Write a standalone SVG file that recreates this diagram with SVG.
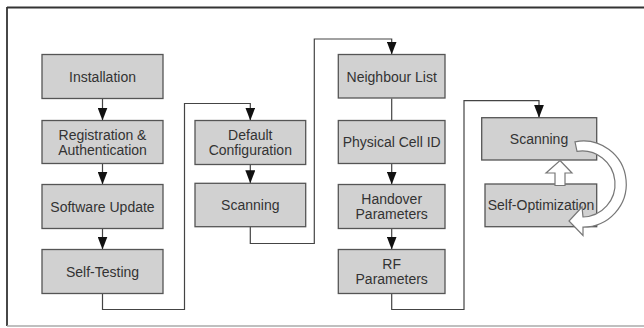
<svg xmlns="http://www.w3.org/2000/svg" width="644" height="328" viewBox="0 0 644 328">
<defs>
<style>
.box{fill:#d1d1d1;stroke:#555;stroke-width:1.3}
.t{font-family:"Liberation Sans",Arial,sans-serif;font-size:14px;fill:#333;text-anchor:middle}
.c{fill:none;stroke:#444;stroke-width:1.2}
.hollow{fill:#fff;stroke:#777;stroke-width:1.2}
</style>
<marker id="ah" markerWidth="13" markerHeight="10" refX="13" refY="5" orient="auto" markerUnits="userSpaceOnUse" viewBox="0 0 13 10">
<path d="M0,0 L13,5 L0,10 Z" fill="#111"/>
</marker>
</defs>
<rect width="644" height="328" fill="#fff"/>
<g id="frame">
<line x1="7" y1="7.5" x2="644" y2="7.5" stroke="#333" stroke-width="1.8"/>
<line x1="7" y1="7" x2="7" y2="326" stroke="#333" stroke-width="1.8"/>
<line x1="7" y1="326" x2="644" y2="326" stroke="#aaa" stroke-width="1.5"/>
</g>
<g id="connectors">
<path class="c" d="M102.5,98.5 V120.5" marker-end="url(#ah)"/>
<path class="c" d="M102.5,163.5 V184.5" marker-end="url(#ah)"/>
<path class="c" d="M102.5,228.5 V249.5" marker-end="url(#ah)"/>
<path class="c" d="M102.5,293.5 V309.5 H184.5 V103.5 H250.3 V120.5" marker-end="url(#ah)"/>
<path class="c" d="M250.3,164.5 V183.3" marker-end="url(#ah)"/>
<path class="c" d="M250.3,227 V243.5 H314.3 V39 H391.7 V54.5" marker-end="url(#ah)"/>
<path class="c" d="M391.7,98.5 V120.5"/>
<path class="c" d="M391.7,163.5 V184.5" marker-end="url(#ah)"/>
<path class="c" d="M391.7,228.5 V249.5" marker-end="url(#ah)"/>
<path class="c" d="M391.7,293.5 V309.5 H464 V100.7 H539 V117.7" marker-end="url(#ah)"/>
</g>
<g id="installation"><rect class="box" x="42" y="54.5" width="121" height="44"/><text class="t" x="102.5" y="81.5">Installation</text></g>
<g id="registration"><rect class="box" x="42" y="120.5" width="121" height="43"/><text class="t" x="102.5" y="140">Registration &amp;</text><text class="t" x="102.5" y="155">Authentication</text></g>
<g id="software-update"><rect class="box" x="42" y="184.5" width="121" height="44"/><text class="t" x="102.5" y="211.5">Software Update</text></g>
<g id="self-testing"><rect class="box" x="42" y="249.5" width="121" height="44"/><text class="t" x="102.5" y="276.5">Self-Testing</text></g>
<g id="default-configuration"><rect class="box" x="195" y="120.5" width="110.7" height="44"/><text class="t" x="250.3" y="140">Default</text><text class="t" x="250.3" y="155">Configuration</text></g>
<g id="scanning-1"><rect class="box" x="195" y="183.3" width="110.7" height="43.4"/><text class="t" x="250.3" y="210">Scanning</text></g>
<g id="neighbour-list"><rect class="box" x="338.3" y="54.5" width="106.7" height="43.5"/><text class="t" x="391.7" y="81.5">Neighbour List</text></g>
<g id="physical-cell-id"><rect class="box" x="338.3" y="120.5" width="106.7" height="43"/><text class="t" x="391.7" y="147">Physical Cell ID</text></g>
<g id="handover-parameters"><rect class="box" x="338.3" y="184.5" width="106.7" height="44"/><text class="t" x="391.7" y="204">Handover</text><text class="t" x="391.7" y="219">Parameters</text></g>
<g id="rf-parameters"><rect class="box" x="338.3" y="249.5" width="106.7" height="44"/><text class="t" x="391.7" y="269">RF</text><text class="t" x="391.7" y="284">Parameters</text></g>
<g id="scanning-2"><rect class="box" x="481.7" y="117.7" width="115" height="42.3"/><text class="t" x="539" y="144">Scanning</text></g>
<g id="self-optimization"><rect class="box" x="485" y="184" width="111.7" height="42.7"/><text class="t" x="541" y="210">Self-Optimization</text></g>
<g id="cycle-arrows">
<path class="hollow" d="M575,141.8 A43,43 0 1 1 583,227 L583,235.5 L569,221 L582,207 L583,217 A33,33 0 1 0 577,151.4 Z"/>
<path class="hollow" d="M560,160.5 L572,173 L565,173 L565,185.5 L555,185.5 L555,173 L546,173 Z"/>
</g>
</svg>
